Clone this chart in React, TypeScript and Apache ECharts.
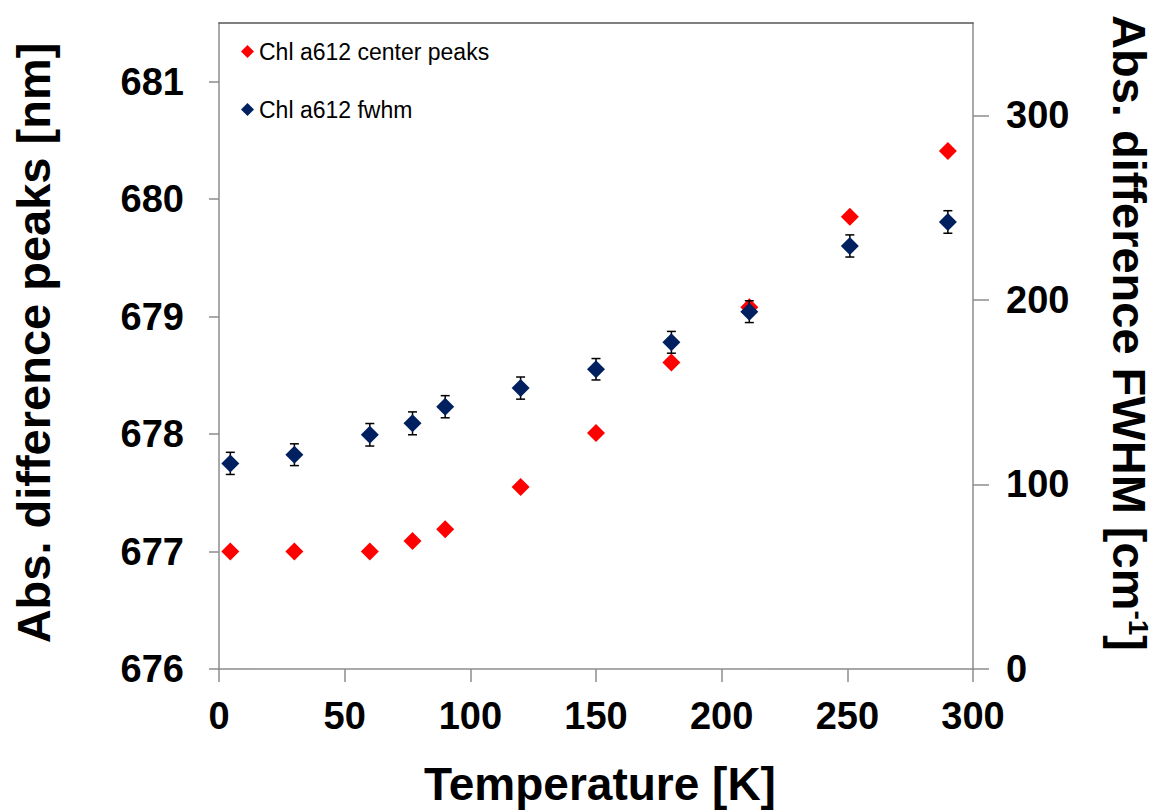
import React, { useEffect, useRef } from "react";
import * as echarts from "echarts";

const temperatures = [4.5, 30, 60, 77, 90, 120, 150, 180, 211, 251, 290];
const centerPeaks = [677.0, 677.0, 677.0, 677.09, 677.19, 677.55, 678.01, 678.61, 679.08, 679.85, 680.41];
const fwhmValues = [111.4, 116.1, 126.9, 133.1, 142.1, 152.2, 162.4, 177.0, 193.6, 229.2, 242.2];
const fwhmErrors = [6.0, 5.9, 6.1, 6.2, 6.0, 6.0, 5.8, 5.9, 5.9, 6.0, 6.1];
const leftTicks = [676, 677, 678, 679, 680, 681];
const rightTicks = [0, 100, 200, 300];

const seriesNames = ["Chl a612 center peaks", "Chl a612 fwhm"];
const FONT = '"Liberation Sans", Arial, sans-serif';
const AXIS_GRAY = "#8c8c8c";

export default function App() {
  const ref = useRef<HTMLDivElement>(null);

  useEffect(() => {
    if (!ref.current) return;
    const chart = echarts.init(ref.current, undefined, { renderer: "svg" });

    const labelStyle = {
      fontSize: 38,
      fontWeight: "bold" as const,
      color: "#000",
      fontFamily: FONT,
    };

    const option: any = {
      animation: false,
      backgroundColor: "#fff",
      grid: { left: 219, right: 183, top: 23, bottom: 142, containLabel: false },
      legend: {
        orient: "vertical",
        left: 236,
        top: 35,
        itemWidth: 13,
        itemHeight: 13,
        itemGap: 35,
        padding: 5,
        selectedMode: false,
        textStyle: { fontSize: 23, color: "#000", fontFamily: FONT },
        data: [
          { name: seriesNames[0], icon: "diamond" },
          { name: seriesNames[1], icon: "diamond" },
        ],
      },
      xAxis: [
        {
          type: "value",
          min: 0,
          max: 300,
          interval: 50,
          position: "bottom",
          axisLine: { show: true, onZero: false, lineStyle: { color: AXIS_GRAY, width: 1.5 } },
          axisTick: { show: true, length: 13, lineStyle: { color: AXIS_GRAY, width: 1.5 } },
          axisLabel: { ...labelStyle, margin: 28 },
          splitLine: { show: false },
        },
        {
          type: "value",
          min: 0,
          max: 300,
          position: "top",
          axisLine: { show: true, onZero: false, lineStyle: { color: "#555", width: 1.5 } },
          axisTick: { show: false },
          axisLabel: { show: false },
          splitLine: { show: false },
        },
      ],
      yAxis: [
        {
          type: "value",
          min: 676,
          max: 681.5,
          position: "left",
          axisLine: { show: true, onZero: false, lineStyle: { color: AXIS_GRAY, width: 1.5 } },
          axisTick: { show: true, length: 10, customValues: leftTicks, lineStyle: { color: AXIS_GRAY, width: 1.5 } },
          axisLabel: { ...labelStyle, margin: 35, customValues: leftTicks },
          splitLine: { show: false },
        },
        {
          type: "value",
          min: 0,
          max: 350,
          position: "right",
          axisLine: { show: true, onZero: false, lineStyle: { color: AXIS_GRAY, width: 1.5 } },
          axisTick: { show: true, length: 16, customValues: rightTicks, lineStyle: { color: AXIS_GRAY, width: 1.5 } },
          axisLabel: { ...labelStyle, margin: 33, customValues: rightTicks },
          splitLine: { show: false },
        },
      ],
      series: [
        {
          name: seriesNames[0],
          type: "scatter",
          xAxisIndex: 0,
          yAxisIndex: 0,
          symbol: "diamond",
          symbolSize: 18,
          itemStyle: { color: "#ff0000", opacity: 1 },
          z: 2,
          data: temperatures.map((t, i) => [t, centerPeaks[i]]),
        },
        {
          name: "fwhm error",
          type: "custom",
          xAxisIndex: 0,
          yAxisIndex: 1,
          z: 3,
          encode: { x: 0, y: 1 },
          data: temperatures.map((t, i) => [t, fwhmValues[i], fwhmErrors[i]]),
          renderItem: (params: any, api: any) => {
            const x = api.value(0);
            const y = api.value(1);
            const e = api.value(2);
            const top = api.coord([x, y + e]);
            const bot = api.coord([x, y - e]);
            const hw = 4.5;
            const st = { stroke: "#000", lineWidth: 1.5 };
            return {
              type: "group",
              children: [
                { type: "line", shape: { x1: top[0], y1: top[1], x2: bot[0], y2: bot[1] }, style: st },
                { type: "line", shape: { x1: top[0] - hw, y1: top[1], x2: top[0] + hw, y2: top[1] }, style: st },
                { type: "line", shape: { x1: bot[0] - hw, y1: bot[1], x2: bot[0] + hw, y2: bot[1] }, style: st },
              ],
            };
          },
        },
        {
          name: seriesNames[1],
          type: "scatter",
          xAxisIndex: 0,
          yAxisIndex: 1,
          symbol: "diamond",
          symbolSize: 18,
          itemStyle: { color: "#002060", opacity: 1 },
          z: 4,
          data: temperatures.map((t, i) => [t, fwhmValues[i]]),
        },
      ],
      graphic: [
        {
          type: "text",
          x: 600,
          y: 784,
          style: {
            text: "Temperature [K]",
            fontSize: 46,
            fontWeight: "bold",
            fontFamily: FONT,
            fill: "#000",
            align: "center",
            verticalAlign: "middle",
          },
        },
        {
          type: "text",
          x: 33,
          y: 343,
          rotation: Math.PI / 2,
          style: {
            text: "Abs. difference peaks [nm]",
            fontSize: 47,
            fontWeight: "bold",
            fontFamily: FONT,
            fill: "#000",
            align: "center",
            verticalAlign: "middle",
          },
        },
        {
          type: "text",
          x: 1129,
          y: 333,
          rotation: -Math.PI / 2,
          style: {
            text: "{m|Abs. difference FWHM [cm}{s|-1}{m|]}",
            fill: "#000",
            align: "center",
            verticalAlign: "middle",
            rich: {
              m: { fontSize: 47, fontWeight: "bold", fontFamily: FONT, fill: "#000", lineHeight: 46 },
              s: { fontSize: 28, fontWeight: "bold", fontFamily: FONT, fill: "#000", verticalAlign: "top", lineHeight: 46 },
            },
          },
        },
      ],
    };

    chart.setOption(option);
    return () => chart.dispose();
  }, []);

  return (
    <div
      ref={ref}
      style={{ position: "absolute", left: 0, top: 0, width: 1156, height: 811, background: "#fff" }}
    />
  );
}
